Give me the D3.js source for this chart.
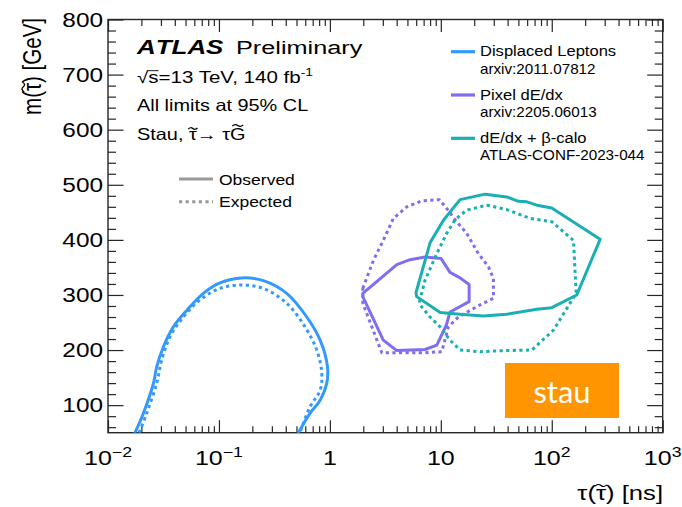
<!DOCTYPE html>
<html>
<head>
<meta charset="utf-8">
<script src="https://cdn.jsdelivr.net/npm/d3@7"></script>
<style>
  body { margin: 0; background: #fff; }
  svg { display: block; }
  text { font-family: "Liberation Sans", Arial, Helvetica, sans-serif; fill: #000; }
</style>
</head>
<body>
<svg id="chart" width="682" height="507"></svg>
<script>
// ---- axis ranges and tick labels ----
const xDomain = [0.01, 1000];
const yDomain = [50, 800];
const xMajorTicks = [0.01, 0.1, 1, 10, 100, 1000];
const xTickBase = ["10", "10", "1", "10", "10", "10"];
const xTickExp = ["\u22122", "\u22121", "", "", "2", "3"];
const yMajorTicks = [100, 200, 300, 400, 500, 600, 700, 800];
const yTickLabels = ["100", "200", "300", "400", "500", "600", "700", "800"];

// ---- Displaced Leptons (arxiv:2011.07812) ----
const dlObsTau  = [0.0175, 0.0208, 0.0257, 0.0275, 0.0316, 0.0388, 0.0513, 0.0723, 0.102, 0.161, 0.251, 0.408, 0.619, 0.817, 0.951, 0.938, 0.817, 0.662, 0.520];
const dlObsMass = [50, 85, 140, 170, 206, 242, 272, 303, 322, 331, 326, 303, 260, 218, 170, 140, 109, 85, 50];
const dlExpTau  = [0.0191, 0.0223, 0.0275, 0.0305, 0.0362, 0.0478, 0.0676, 0.102, 0.161, 0.251, 0.408, 0.597, 0.762, 0.845, 0.817, 0.662, 0.538];
const dlExpMass = [50, 85, 140, 182, 224, 260, 291, 312, 318, 312, 285, 242, 200, 158, 127, 97, 50];

// ---- Pixel dE/dx (arxiv:2205.06013) ----
const pxObsTau  = [1.98, 4.01, 5.29, 7.21, 10.07, 12.1, 14.9, 18.0, 18.0, 12.1, 11.2, 9.2, 7.21, 4.01, 3.03, 1.98];
const pxObsMass = [303, 355, 364, 369, 366, 341, 331, 319, 288, 269, 245, 209, 201, 199, 218, 297];
const pxExpTau  = [1.98, 2.47, 3.03, 3.74, 4.94, 6.74, 9.73, 11.3, 13.5, 17.1, 21.8, 26.9, 29.8, 29.8, 22.6, 14.4, 11.7, 10.2, 6.97, 3.87, 2.94, 1.98];
const pxExpMass = [312, 363, 399, 439, 460, 471, 473, 457, 436, 412, 375, 351, 330, 294, 282, 260, 242, 197, 195, 195, 195, 285];

// ---- dE/dx + beta-calo (ATLAS-CONF-2023-044) ----
const bcObsTau  = [14.9, 25.1, 39.3, 50.1, 59.6, 73.4, 100, 147, 273, 168, 100, 73.4, 39.3, 24.2, 14.9, 9.86, 6.06, 5.97, 8.01, 10.6];
const bcObsMass = [473, 483, 478, 470, 469, 463, 458, 436, 401, 300, 277, 274, 265, 262, 265, 268, 297, 304, 395, 436];
const bcExpTau  = [6.43, 7.21, 9.2, 11.3, 13.5, 17.1, 26.0, 39.3, 63.8, 100, 157, 166, 103.5, 66.1, 36.7, 22.6, 14.9, 12.1, 9.86, 8.0, 6.5];
const bcExpMass = [288, 327, 375, 412, 437, 454, 463, 455, 439, 433, 399, 303, 236, 200, 199, 197, 200, 218, 242, 260, 282];

// ---- legend entries ----
const legendNames = ["Displaced Leptons", "Pixel dE/dx", "dE/dx + \u03B2-calo"];
const legendRefs = ["arxiv:2011.07812", "arxiv:2205.06013", "ATLAS-CONF-2023-044"];
const legendColors = ["#3399ff", "#7f6ff0", "#1aafb4"];

// ---- layout ----
const plot = { left: 108, right: 662.7, top: 19.5, bottom: 432.7 };
const SX = 1.25;     // horizontal stretch of lettering
const frameColor = "#262626";

const svg = d3.select("#chart");
const x = d3.scaleLog().domain(xDomain).range([plot.left, plot.right]);
const y = d3.scaleLinear().domain(yDomain).range([plot.bottom, plot.top]);

// text helper: a group carrying position + stretch, with the text at its origin
function label(parent, px, py, str, size, opts = {}) {
  const g = parent.append("g")
    .attr("transform", `translate(${px},${py}) scale(${opts.sx || SX},1)` + (opts.rotate ? ` rotate(${opts.rotate})` : ""));
  const t = g.append("text")
    .attr("font-size", size)
    .attr("text-anchor", opts.anchor || "start");
  if (opts.weight) t.attr("font-weight", opts.weight);
  if (opts.style) t.attr("font-style", opts.style);
  if (opts.kern === false) t.style("font-kerning", "none");
  t.text(str);
  return t;
}

// wavy tilde accent over the character at index i of a text element
function tildeOver(t, i, rise, width, amp) {
  const box = t.node().getExtentOfChar(i);
  const cx = box.x + box.width / 2;
  const w = width || box.width * 0.95;
  const a = amp || 1.4;
  const x0 = cx - w / 2, y0 = -rise;
  d3.select(t.node().parentNode).append("path")
    .attr("d", `M${x0},${y0 + a * 0.5} Q${x0 + w / 4},${y0 - 1.6 * a} ${cx},${y0} T${x0 + w},${y0 - a * 0.5}`)
    .attr("fill", "none").attr("stroke", "#000").attr("stroke-width", 1.1);
}

// ---- clip region ----
svg.append("defs").append("clipPath").attr("id", "plotClip")
  .append("rect")
  .attr("x", plot.left).attr("y", plot.top)
  .attr("width", plot.right - plot.left).attr("height", plot.bottom - plot.top);

// ---- ticks (drawn inward on all four sides) ----
const xMinor = [];
for (let e = -2; e < 3; e++) for (let k = 2; k <= 9; k++) xMinor.push(k * Math.pow(10, e));
const yMinor = d3.range(60, 800, 20).filter(v => v % 100 !== 0);

const axes = svg.append("g").attr("class", "axes");
function tickAxis(axisFn, scale, ticks, size, transform) {
  const a = axisFn(scale).tickValues(ticks).tickSize(size).tickFormat("");
  const g = axes.append("g").attr("transform", transform).call(a);
  g.select(".domain").remove();
  g.selectAll(".tick line").attr("stroke", frameColor).attr("stroke-width", 1.2);
  return g;
}
tickAxis(d3.axisBottom, x, xMajorTicks, -12.5, `translate(0,${plot.bottom})`);
tickAxis(d3.axisBottom, x, xMinor, -6.5, `translate(0,${plot.bottom})`);
tickAxis(d3.axisTop, x, xMajorTicks, -12.5, `translate(0,${plot.top})`);
tickAxis(d3.axisTop, x, xMinor, -6.5, `translate(0,${plot.top})`);
tickAxis(d3.axisLeft, y, yMajorTicks, -15.5, `translate(${plot.left},0)`);
tickAxis(d3.axisLeft, y, yMinor, -8, `translate(${plot.left},0)`);
tickAxis(d3.axisRight, y, yMajorTicks, -15.5, `translate(${plot.right},0)`);
tickAxis(d3.axisRight, y, yMinor, -8, `translate(${plot.right},0)`);

// frame
svg.append("rect")
  .attr("x", plot.left).attr("y", plot.top)
  .attr("width", plot.right - plot.left).attr("height", plot.bottom - plot.top)
  .attr("fill", "none").attr("stroke", frameColor).attr("stroke-width", 1.4);

// ---- tick labels ----
const tl = svg.append("g");
yMajorTicks.forEach((v, i) => {
  label(tl, 103, y(v) + 7, yTickLabels[i], 19.5, { anchor: "end" });
});
xMajorTicks.forEach((v, i) => {
  const t = label(tl, x(v), 465, "", 20.5, { anchor: "middle", sx: 1.22 });
  t.append("tspan").text(xTickBase[i]);
  if (xTickExp[i]) t.append("tspan").attr("font-size", 14.5).attr("dy", -8).text(xTickExp[i]);
});

// axis titles
const xTitle = label(svg, 663, 500, "\u03C4(\u03C4) [ns]", 21, { anchor: "end", sx: 1.22 });
tildeOver(xTitle, 2, 14.5, 10, 1.5);
const yTitle = label(svg, 41, 18, "m(\u03C4) [GeV]", 20.5, { anchor: "end", rotate: -90 });
tildeOver(yTitle, 2, 14.2, 10, 1.5);

// ---- exclusion contours ----
const curves = svg.append("g").attr("clip-path", "url(#plotClip)");
const smooth = d3.line().x(d => x(d[0])).y(d => y(d[1])).curve(d3.curveCatmullRom.alpha(0.5));
const closedPoly = d3.line().x(d => x(d[0])).y(d => y(d[1])).curve(d3.curveLinearClosed);
const zip = (a, b) => a.map((v, i) => [v, b[i]]);
const DOTS = "3.2,3.4";

function contour(gen, pts, color, dotted) {
  const p = curves.append("path")
    .attr("d", gen(pts))
    .attr("fill", "none")
    .attr("stroke", color)
    .attr("stroke-width", 3)
    .attr("stroke-linejoin", "round");
  if (dotted) p.attr("stroke-dasharray", DOTS);
  else p.attr("stroke-linecap", "round");
}
contour(smooth, zip(dlExpTau, dlExpMass), legendColors[0], true);
contour(smooth, zip(dlObsTau, dlObsMass), legendColors[0], false);
contour(closedPoly, zip(pxExpTau, pxExpMass), legendColors[1], true);
contour(closedPoly, zip(pxObsTau, pxObsMass), legendColors[1], false);
contour(closedPoly, zip(bcExpTau, bcExpMass), legendColors[2], true);
contour(closedPoly, zip(bcObsTau, bcObsMass), legendColors[2], false);

// ---- ATLAS label block ----
const info = svg.append("g");
label(info, 137, 54.3, "ATLAS", 19.5, { weight: "bold", style: "italic", sx: 1.33, kern: false });
label(info, 236, 54.3, "Preliminary", 19, { sx: 1.33 });
const cm = label(info, 137, 83.3, "", 16.3, { sx: 1.26 });
cm.append("tspan").text("\u221A");
cm.append("tspan").text("s=13 TeV, 140 fb");
cm.append("tspan").attr("font-size", 11).attr("dy", -7).text("-1");
{
  const sBox = cm.node().getExtentOfChar(1);
  d3.select(cm.node().parentNode).append("line")
    .attr("x1", sBox.x - 0.5).attr("x2", sBox.x + sBox.width)
    .attr("y1", -12.6).attr("y2", -12.6)
    .attr("stroke", "#000").attr("stroke-width", 0.9);
}
label(info, 137, 111, "All limits at 95% CL", 16.3, { sx: 1.22 });
const decay = label(info, 137, 140, "Stau, \u03C4\u2192 \u03C4G", 16.3, { sx: 1.22 });
tildeOver(decay, 6, 11.5, 7.5, 1.2);
tildeOver(decay, 10, 14.5, 9, 1.2);

// observed / expected style key
const key = svg.append("g");
const keyStyles = [{ name: "Observed", dash: null, yy: 179 }, { name: "Expected", dash: DOTS, yy: 201.7 }];
keyStyles.forEach(k => {
  const l = key.append("line")
    .attr("x1", 179).attr("x2", 213).attr("y1", k.yy).attr("y2", k.yy)
    .attr("stroke", "#9a9a9a").attr("stroke-width", 3);
  if (k.dash) l.attr("stroke-dasharray", k.dash);
  label(key, 219, k.yy + 5.5, k.name, 15.5, { sx: 1.13 });
});

// ---- analysis legend ----
const leg = svg.append("g");
const legLineY = [51.7, 95, 138.3];
legendNames.forEach((n, i) => {
  leg.append("line")
    .attr("x1", 451).attr("x2", 475).attr("y1", legLineY[i]).attr("y2", legLineY[i])
    .attr("stroke", legendColors[i]).attr("stroke-width", 3.2);
  label(leg, 480, legLineY[i] + 4.5, n, 15.2, { sx: 1.09 });
  label(leg, 480, legLineY[i] + 21.8, legendRefs[i], 14, { sx: 1.087 });
});

// ---- "stau" tag ----
const tag = svg.append("g");
tag.append("rect").attr("x", 505).attr("y", 363).attr("width", 114).attr("height", 55).attr("fill", "#ff9500");
tag.append("text").attr("x", 562).attr("y", 403).attr("text-anchor", "middle")
  .attr("font-size", 31).style("fill", "#fff").style("font-family", "Lato, 'Open Sans', sans-serif")
  .text("stau");
</script>
</body>
</html>
